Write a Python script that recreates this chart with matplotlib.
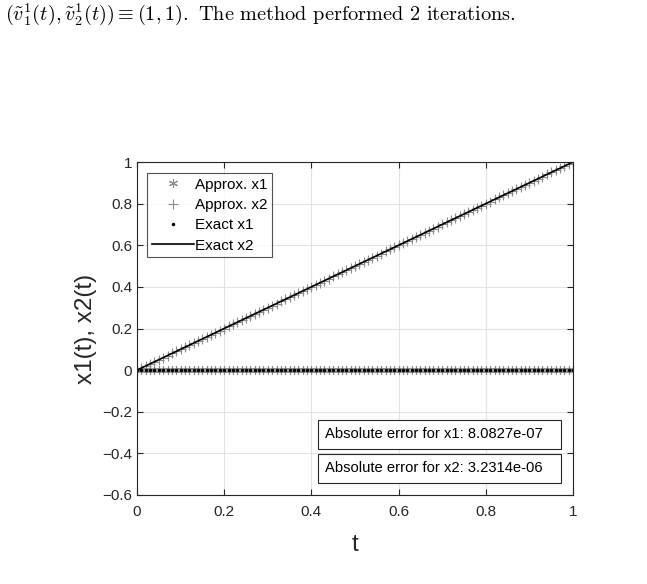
import numpy as np
import matplotlib
matplotlib.use('Agg')
from matplotlib import pyplot as plt
from matplotlib.patches import Rectangle

# time grid and solution values (x2 grows linearly, x1 stays at zero)
t = np.linspace(0, 1, 101)
approxX1 = np.zeros(101)
approxX2 = t.copy()
exactX1 = np.zeros(101)
exactX2 = t.copy()

xTicks = [0, 0.2, 0.4, 0.6, 0.8, 1]
yTicks = [-0.6, -0.4, -0.2, 0, 0.2, 0.4, 0.6, 0.8, 1]
legendLabels = ['Approx. x1', 'Approx. x2', 'Exact x1', 'Exact x2']
errorTexts = ['Absolute error for x1: 8.0827e-07',
              'Absolute error for x2: 3.2314e-06']
caption = (r'$(\tilde{v}_1^1(t), \tilde{v}_2^1(t)) \equiv (1,1).$'
           ' The method performed 2 iterations.')

plt.rcParams['font.family'] = ['Liberation Sans', 'DejaVu Sans']
plt.rcParams['mathtext.fontset'] = 'cm'

DARK = '#262626'
W, H = 647, 584
fig = plt.figure(figsize=(W / 100, H / 100), dpi=100)
axL, axR, axT, axB = 137, 573, 162, 495
ax = fig.add_axes([axL / W, (H - axB) / H, (axR - axL) / W, (axB - axT) / H])

ax.plot(t, approxX1, linestyle='none', marker=(6, 2, 0), markersize=6.5,
        color='#8c8c8c', markeredgewidth=0.8, label=legendLabels[0])
ax.plot(t, approxX2, linestyle='none', marker='+', markersize=6.5,
        color='#8c8c8c', markeredgewidth=0.8, label=legendLabels[1])
ax.plot(t, exactX1, linestyle='none', marker='.', markersize=3,
        color='black', label=legendLabels[2])
ax.plot(t, exactX2, linestyle='-', linewidth=1.2, color='black',
        label=legendLabels[3])

ax.set_xlim(0, 1)
ax.set_ylim(-0.6, 1)
ax.set_xticks(xTicks)
ax.set_xticklabels(['0', '0.2', '0.4', '0.6', '0.8', '1'])
ax.set_yticks(yTicks)
ax.set_yticklabels(['\u22120.6', '\u22120.4', '\u22120.2', '0', '0.2',
                    '0.4', '0.6', '0.8', '1'])
ax.grid(True, color='#e3e3e3', linewidth=0.8)
ax.set_axisbelow(True)
ax.tick_params(direction='in', length=4, colors=DARK, labelsize=11,
               top=True, right=True, labeltop=False, labelright=False)
ax.tick_params(axis='x', pad=7)
for sp in ax.spines.values():
    sp.set_color(DARK)
    sp.set_linewidth(0.8)
ax.set_xlabel('t', fontsize=17.5, color=DARK, labelpad=11)
ax.set_ylabel('x1(t), x2(t)', fontsize=17.5, color=DARK, labelpad=4)

leg = ax.legend(loc='upper left', fontsize=11, frameon=True, fancybox=False,
                edgecolor=DARK, borderpad=0.3, handlelength=2.75,
                handletextpad=0.1, labelspacing=0.42, borderaxespad=0,
                bbox_to_anchor=((147 - axL) / (axR - axL),
                                (axB - 173) / (axB - axT)))
leg.get_frame().set_linewidth(0.8)


def toAx(px, py):
    return ((px - axL) / (axR - axL), (axB - py) / (axB - axT))


boxes = [(318, 420, 561, 449), (318, 454, 561, 483)]
for (txt, (x0, y0, x1, y1)) in zip(errorTexts, boxes):
    (bx, by) = toAx(x0, y1)
    (tx, ty) = toAx(x1, y0)
    ax.add_patch(Rectangle((bx, by), tx - bx, ty - by,
                           transform=ax.transAxes, facecolor='white',
                           edgecolor=DARK, linewidth=0.8, zorder=5))
    (lx, ly) = toAx(x0 + 7, (y0 + y1) / 2)
    ax.text(lx, ly, txt, transform=ax.transAxes, fontsize=10.6,
            color='black', va='center', ha='left', zorder=6)

fig.text(5 / W, 1 - 14 / H, caption, fontsize=14.6, family='cmr10',
         va='center', ha='left')

plt.savefig('out.png', dpi=100)
plt.close()
